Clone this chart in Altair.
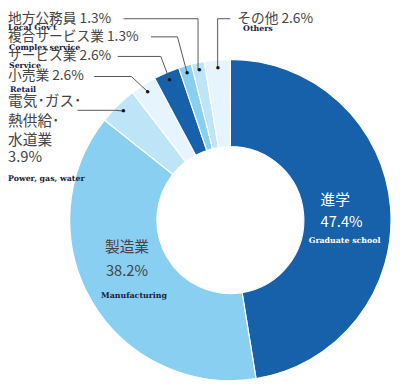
import altair as alt
import pandas as pd
import numpy as np

# ---- data ----
categories = ["進学", "製造業", "電気・ガス・熱供給・水道業", "小売業",
              "サービス業", "複合サービス業", "地方公務員", "その他"]
english = ["Graduate school", "Manufacturing", "Power, gas, water", "Retail",
           "Service", "Complex service", "Local Gov't", "Others"]
shares = [47.4, 38.2, 3.9, 2.6, 2.6, 1.3, 1.3, 2.6]
slice_colors = ["#1661a9", "#89cff2", "#bde4f7", "#e5f4fd",
                "#1661a9", "#89cff2", "#bde4f7", "#e5f4fd"]
has_leader = [False, False, True, True, True, True, True, True]

# ---- layout (page px -> chart px) ----
OFF = 8
CX, CY = 235 - OFF, 220.5 - OFF
R_OUT, R_IN, R_DOT = 164, 75, 156

df = pd.DataFrame({"cat": categories, "eng": english, "share": shares,
                   "order": list(range(len(categories))),
                   "dot": ["●" if h else "" for h in has_leader]})

base = alt.Chart(df).encode(
    theta=alt.Theta("share:Q", stack=True),
    order=alt.Order("order:Q"),
    x=alt.value(CX), y=alt.value(CY),
)

arcs = base.mark_arc(outerRadius=R_OUT, innerRadius=R_IN, stroke="white",
                     strokeWidth=1.2).encode(
    color=alt.Color("cat:N", scale=alt.Scale(domain=categories, range=slice_colors),
                    legend=None)
)

dots = base.mark_text(
    radius=R_DOT, fontSize=8, color="#111", baseline="middle", align="center"
).encode(text="dot:N")

# leader line end points derived from slice mid-angles
total = sum(shares)
cum = np.cumsum([0] + shares)
mid = {}
for i, c in enumerate(categories):
    a = 2 * np.pi * (cum[i] + shares[i] / 2) / total
    mid[c] = (CX + R_DOT * np.sin(a), CY - R_DOT * np.cos(a))

leader_start = {
    "地方公務員": [(126, 15), (202, 15)],
    "複合サービス業": [(154, 33.5), (181, 33.5)],
    "サービス業": [(120, 53.5), (164, 53.5)],
    "小売業": [(96, 74), (134, 74)],
    "電気・ガス・熱供給・水道業": [(79, 108.5), (118, 108.5)],
    "その他": [(235, 15), (222, 15)],
}
rows = []
for c, pts in leader_start.items():
    seq = 0
    for (px, py) in pts:
        rows.append({"line": c, "seq": seq, "x": px - OFF, "y": py - OFF}); seq += 1
    ex, ey = mid[c]
    if c in ("地方公務員", "その他"):
        ex = pts[-1][0] - OFF
    rows.append({"line": c, "seq": seq, "x": ex, "y": ey})
lines = alt.Chart(pd.DataFrame(rows)).mark_line(color="#555", strokeWidth=1).encode(
    x=alt.X("x:Q", scale=None), y=alt.Y("y:Q", scale=None),
    detail="line:N", order="seq:Q")

LX = 8  # leftmost visible page x

# ---- text labels ----
jp_top = pd.DataFrame([
    {"t": "地方公務員 1.3%", "x": LX, "y": 15},
    {"t": "複合サービス業 1.3%", "x": LX, "y": 34},
    {"t": "サービス業 2.6%", "x": LX, "y": 53.5},
    {"t": "小売業 2.6%", "x": LX, "y": 74},
    {"t": "その他 2.6%", "x": 242, "y": 15},
])
jp_top["x"] -= OFF; jp_top["y"] -= OFF
jpt = alt.Chart(jp_top).mark_text(
    font="Noto Sans CJK JP", fontSize=14, color="#444444", align="left", baseline="middle"
).encode(x=alt.X("x:Q", scale=None), y=alt.Y("y:Q", scale=None), text="t:N")

jp_labels = pd.DataFrame([
    {"t": "電気･ガス･", "x": LX, "y": 99.5},
    {"t": "熱供給･", "x": LX, "y": 119.5},
    {"t": "水道業", "x": LX, "y": 138.5},
    {"t": "3.9%", "x": LX, "y": 156},
    {"t": "製造業", "x": 107, "y": 248.5},
    {"t": "38.2%", "x": 108, "y": 272.5},
])
jp_labels["x"] -= OFF; jp_labels["y"] -= OFF
jp = alt.Chart(jp_labels).mark_text(
    font="Noto Sans CJK JP", fontSize=15, color="#444444", align="left", baseline="middle"
).encode(x=alt.X("x:Q", scale=None), y=alt.Y("y:Q", scale=None), text="t:N")

jp_w = pd.DataFrame([
    {"t": "進学", "x": 327, "y": 200},
    {"t": "47.4%", "x": 327, "y": 222.5},
])
jp_w["x"] -= OFF; jp_w["y"] -= OFF
jpw = alt.Chart(jp_w).mark_text(
    font="Noto Sans CJK JP", fontSize=15, color="white", align="left", baseline="middle"
).encode(x=alt.X("x:Q", scale=None), y=alt.Y("y:Q", scale=None), text="t:N")

en_labels = pd.DataFrame([
    {"t": "Local Gov't", "x": LX, "y": 25},
    {"t": "Complex service", "x": LX + 1, "y": 44.5},
    {"t": "Service", "x": LX + 1, "y": 63.5},
    {"t": "Retail", "x": LX + 2, "y": 88},
    {"t": "Power, gas, water", "x": LX, "y": 178.5},
    {"t": "Others", "x": 248, "y": 25.5},
    {"t": "Manufacturing", "x": 103, "y": 298},
])
en_labels["x"] -= OFF; en_labels["y"] -= OFF
en = alt.Chart(en_labels).mark_text(
    font="DejaVu Serif", fontSize=8, fontWeight="bold", color="#14213d",
    align="left", baseline="middle"
).encode(x=alt.X("x:Q", scale=None), y=alt.Y("y:Q", scale=None), text="t:N")

en_w = pd.DataFrame([{"t": "Graduate school", "x": 315, "y": 242}])
en_w["x"] -= OFF; en_w["y"] -= OFF
enw = alt.Chart(en_w).mark_text(
    font="DejaVu Serif", fontSize=8, fontWeight="bold", color="white",
    align="left", baseline="middle"
).encode(x=alt.X("x:Q", scale=None), y=alt.Y("y:Q", scale=None), text="t:N")

chart = alt.layer(arcs, lines, dots, jpt, jp, jpw, en, enw).properties(
    width=392, height=379, autosize=alt.AutoSizeParams(type="none"), padding=0
).configure_view(stroke=None)

chart.save("out.html", embed_options={"renderer": "svg", "actions": False})
